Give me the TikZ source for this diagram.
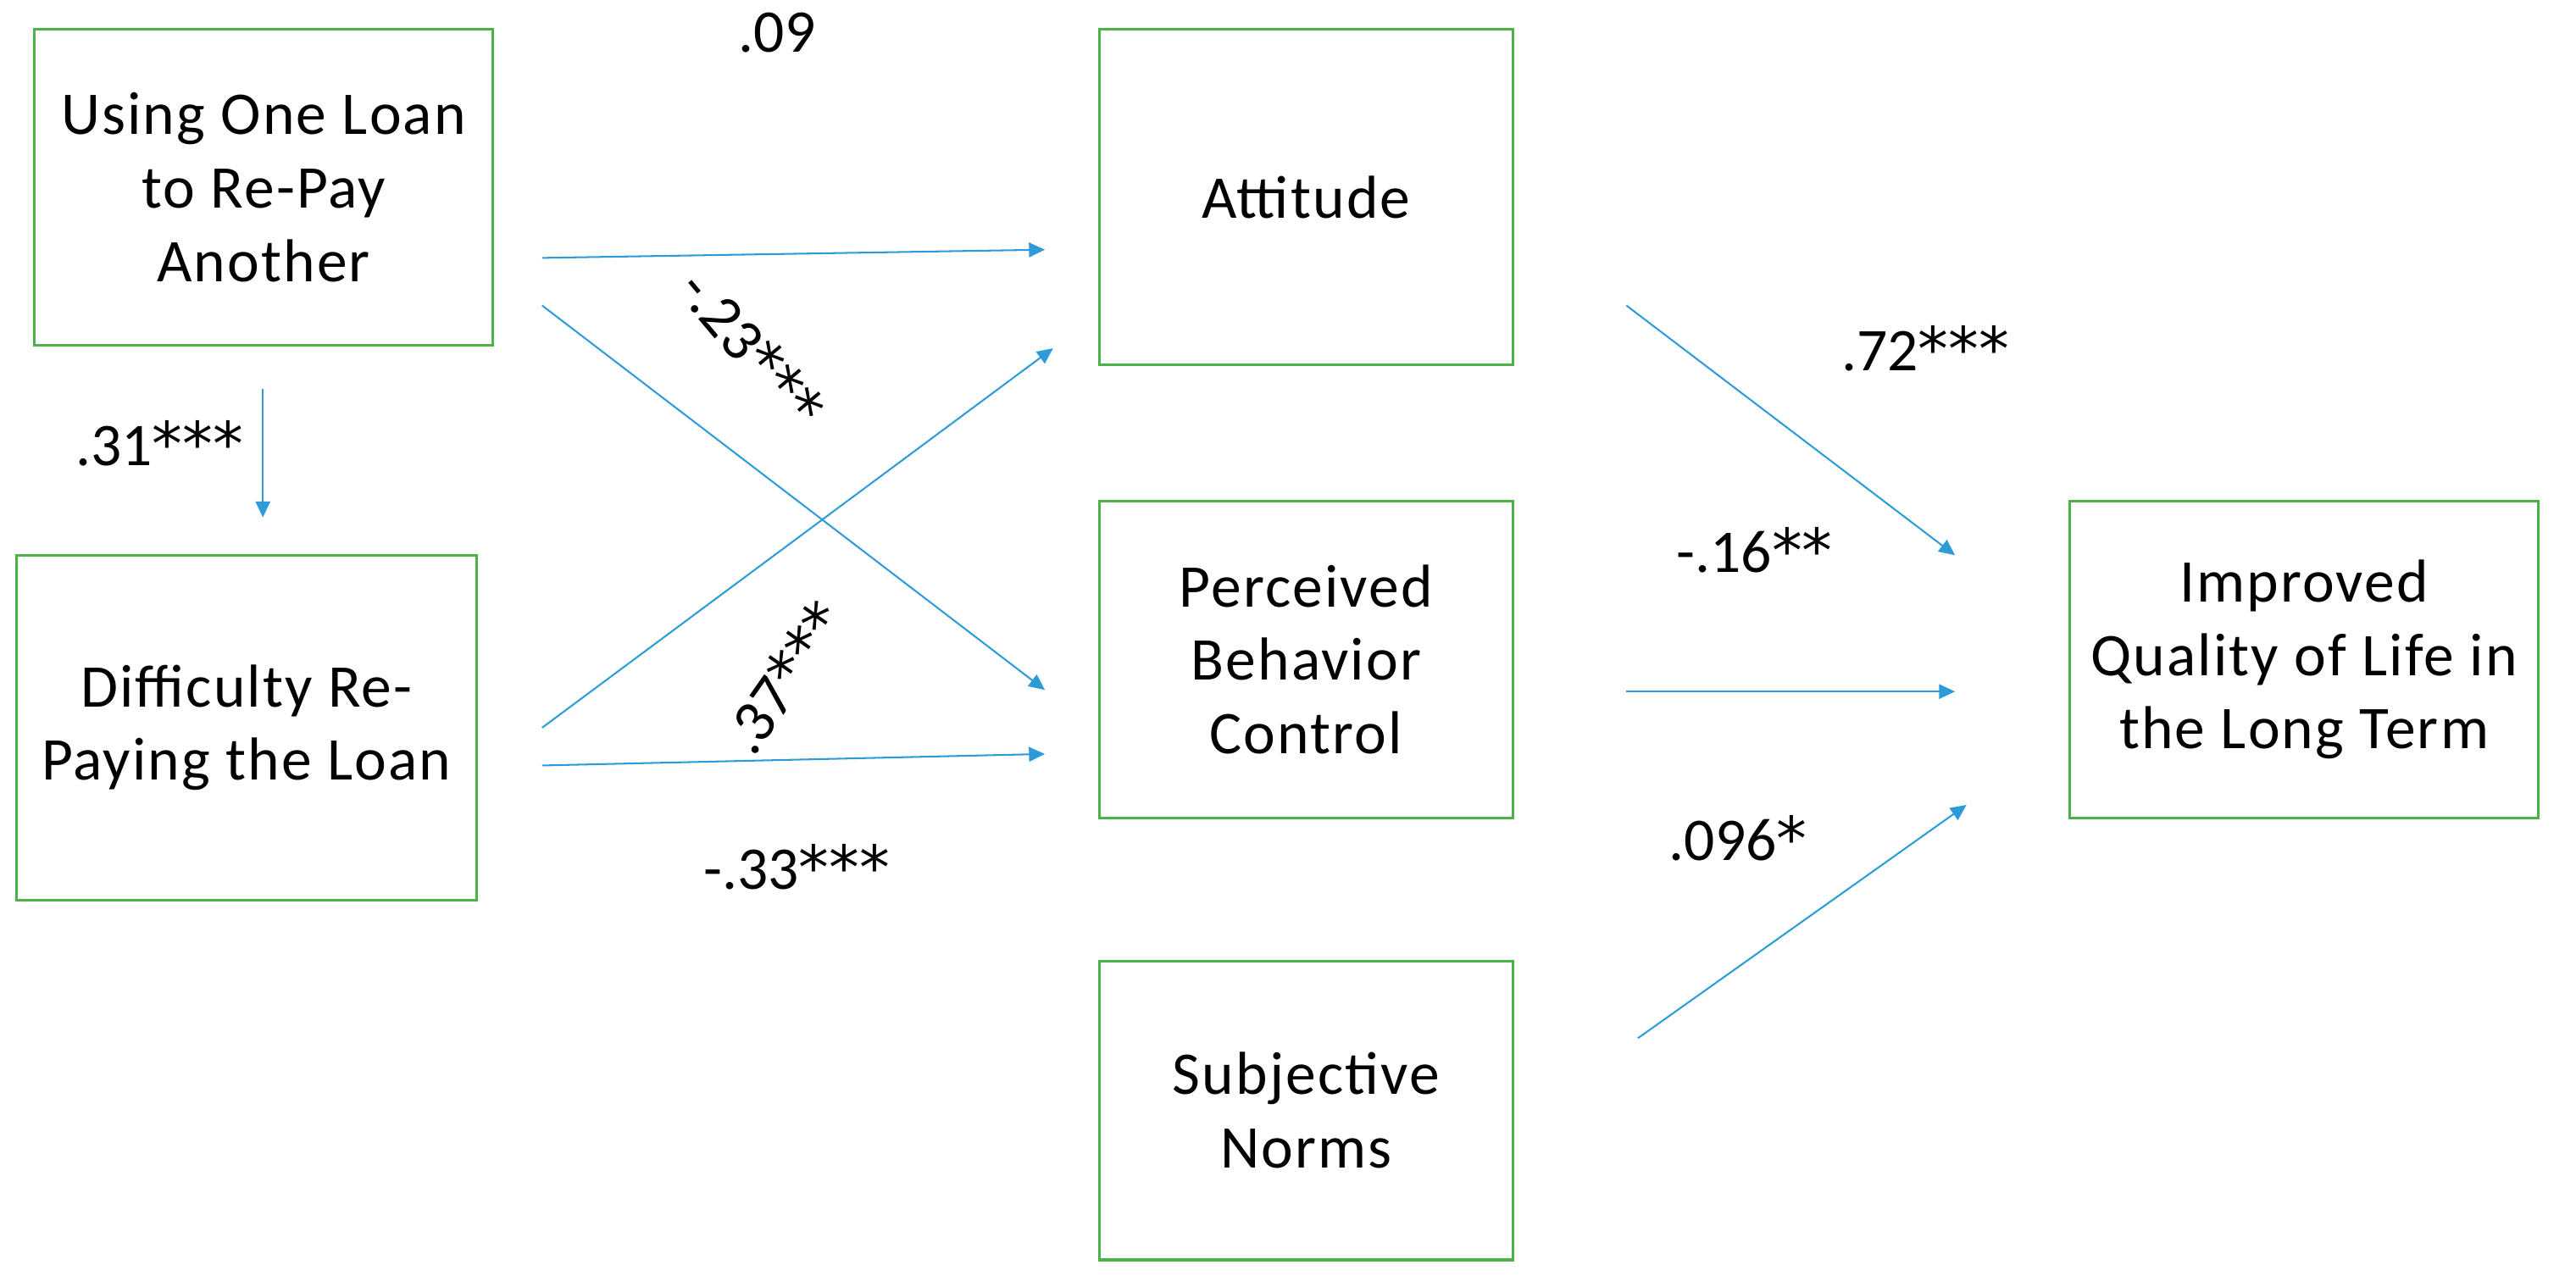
\documentclass[tikz,border=0pt]{standalone}
\usepackage{fontspec}
\setmainfont{Carlito}
\newfontfamily\astfont{DejaVu Sans}
\newcommand\Ast{{\astfont *}}
\usetikzlibrary{arrows.meta}
\definecolor{boxgreen}{RGB}{76,178,70}
\definecolor{arrblue}{RGB}{45,155,215}
\begin{document}
\begin{tikzpicture}[x=0.02cm,y=-0.02cm,
  box/.style={draw=boxgreen,line width=0.9pt,align=center,inner sep=0pt,
    font=\addfontfeatures{LetterSpace=3}\fontsize{21}{25.5}\selectfont},
  conn/.style={draw=arrblue,line width=0.6pt,-{Triangle[length=5.5pt,width=5pt]}},
  lbl/.style={font=\fontsize{21}{24}\selectfont,inner sep=0pt}]
\useasboundingbox[fill=white] (0,0) rectangle (1568,783);

\node[box,minimum width=5.58cm,minimum height=3.84cm] (use) at (160.5,114) {Using One Loan\\to Re-Pay\\Another};
\node[box,minimum width=5.60cm,minimum height=4.20cm] (diff) at (150,443) {Difficulty Re-\\Paying the Loan};
\node[box,minimum width=5.04cm,minimum height=4.08cm] (att) at (795,120) {Attitude};
\node[box,minimum width=5.04cm,minimum height=3.86cm] (pbc) at (795,401.5) {Perceived\\Behavior\\Control};
\node[box,minimum width=5.04cm,minimum height=3.64cm] (sn) at (795,676) {Subjective\\Norms};
\node[box,minimum width=5.70cm,minimum height=3.86cm] (qol) at (1402.5,401.5) {Improved\\Quality of Life in\\the Long Term};

\coordinate (a1s) at (160,237);  \coordinate (a1e) at (160,315);
\coordinate (a2s) at (330,157);  \coordinate (a2e) at (636,152);
\coordinate (a3s) at (330,186);  \coordinate (a3e) at (636,420);
\coordinate (a4s) at (330,443);  \coordinate (a4e) at (641,212);
\coordinate (a5s) at (330,466);  \coordinate (a5e) at (636,459);
\coordinate (a6s) at (990,186);  \coordinate (a6e) at (1190,338);
\coordinate (a7s) at (990,421);  \coordinate (a7e) at (1190,421);
\coordinate (a8s) at (997,632);  \coordinate (a8e) at (1197,490);

\draw[conn] (a1s) -- (a1e);
\draw[conn] (a2s) -- (a2e);
\draw[conn] (a3s) -- (a3e);
\draw[conn] (a4s) -- (a4e);
\draw[conn] (a5s) -- (a5e);
\draw[conn] (a6s) -- (a6e);
\draw[conn] (a7s) -- (a7e);
\draw[conn] (a8s) -- (a8e);

\node[lbl] (l09) at (473,20) {.09};
\node[lbl] (l31) at (97,270) {.31\Ast\Ast\Ast};
\node[lbl,rotate=-50] (l23) at (458,212) {-.23\Ast\Ast\Ast};
\node[lbl,rotate=55] (l37) at (477,412) {.37\Ast\Ast\Ast};
\node[lbl] (l33) at (485,528) {-.33\Ast\Ast\Ast};
\node[lbl] (l72) at (1172,212) {.72\Ast\Ast\Ast};
\node[lbl] (l16) at (1068,335) {-.16\Ast\Ast};
\node[lbl] (l096) at (1058,510) {.096\Ast};
\end{tikzpicture}
\end{document}
